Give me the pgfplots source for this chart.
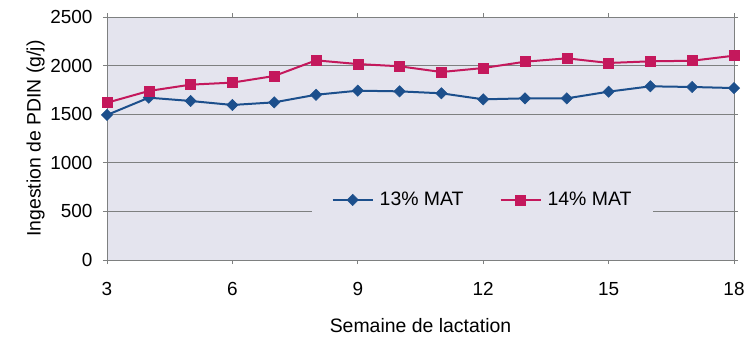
\documentclass[border=0pt]{standalone}
\usepackage{pgfplots}
\pgfplotsset{compat=1.18}
\usepackage{fontspec}
\setmainfont{Liberation Sans}
\definecolor{bgc}{HTML}{E4E4EE}
\definecolor{bluec}{HTML}{1C4F8C}
\definecolor{redc}{HTML}{C4185C}
\definecolor{gridc}{HTML}{7E8080}
\begin{document}
\fontsize{19}{22}\selectfont
\begin{tikzpicture}[x=1bp,y=1bp]
\begin{axis}[
  at={(0,0)}, anchor=south west,
  scale only axis, width=627bp, height=243bp,
  xmin=3, xmax=18, ymin=0, ymax=2500,
  xtick={3,6,9,12,15,18},
  ytick={0,500,1000,1500,2000,2500},
  /pgf/number format/assume math mode=true,
  /pgf/number format/set thousands separator={},
  tick label style={font=\fontsize{19}{22}\selectfont},
  label style={font=\fontsize{19.5}{22}\selectfont},
  xlabel={Semaine de lactation},
  ylabel={Ingestion de PDIN (g/j)},
  xlabel style={yshift=-10bp},
  ylabel style={yshift=-7bp},
  axis background/.style={fill=bgc},
  ymajorgrids, grid style={gridc, line width=0.8bp},
  axis line style={gridc, line width=0.8bp},
  tick style={gridc, line width=0.8bp},
  tick align=outside, major tick length=4bp,
  xticklabel style={yshift=-12bp},
  yticklabel style={xshift=-4bp},
  legend columns=2,
  legend style={draw=none, fill=bgc, at={(0.599,0.247)}, anchor=center,
    font=\fontsize{19.5}{22}\selectfont, column sep=0bp, inner xsep=20bp, inner ysep=4bp,
    /tikz/every odd column/.append style={column sep=4bp},
    /tikz/every even column/.append style={column sep=34bp}},
  legend image code/.code={\draw[mark repeat=2,mark phase=2] plot coordinates {(0bp,0bp)(20bp,0bp)(40bp,0bp)};},
  every axis plot/.append style={line width=2bp},
]
\addplot[color=bluec, mark=square*, mark size=4bp, mark options={rotate=45, fill=bluec, line width=0.5bp}]
coordinates {(3,1492) (4,1670) (5,1636) (6,1595) (7,1622) (8,1700) (9,1742) (10,1735) (11,1715) (12,1653) (13,1663) (14,1663) (15,1732) (16,1787) (17,1780) (18,1769)};
\addlegendentry{13\% MAT}
\addplot[color=redc, mark=square*, mark size=5bp, mark options={fill=redc, line width=0.5bp}]
coordinates {(3,1618) (4,1739) (5,1804) (6,1825) (7,1893) (8,2054) (9,2016) (10,1993) (11,1934) (12,1975) (13,2040) (14,2075) (15,2027) (16,2044) (17,2050) (18,2102)};
\addlegendentry{14\% MAT}
\end{axis}
\pgfresetboundingbox
\path[use as bounding box] (-107,-77) rectangle (645,260);
\end{tikzpicture}
\end{document}
